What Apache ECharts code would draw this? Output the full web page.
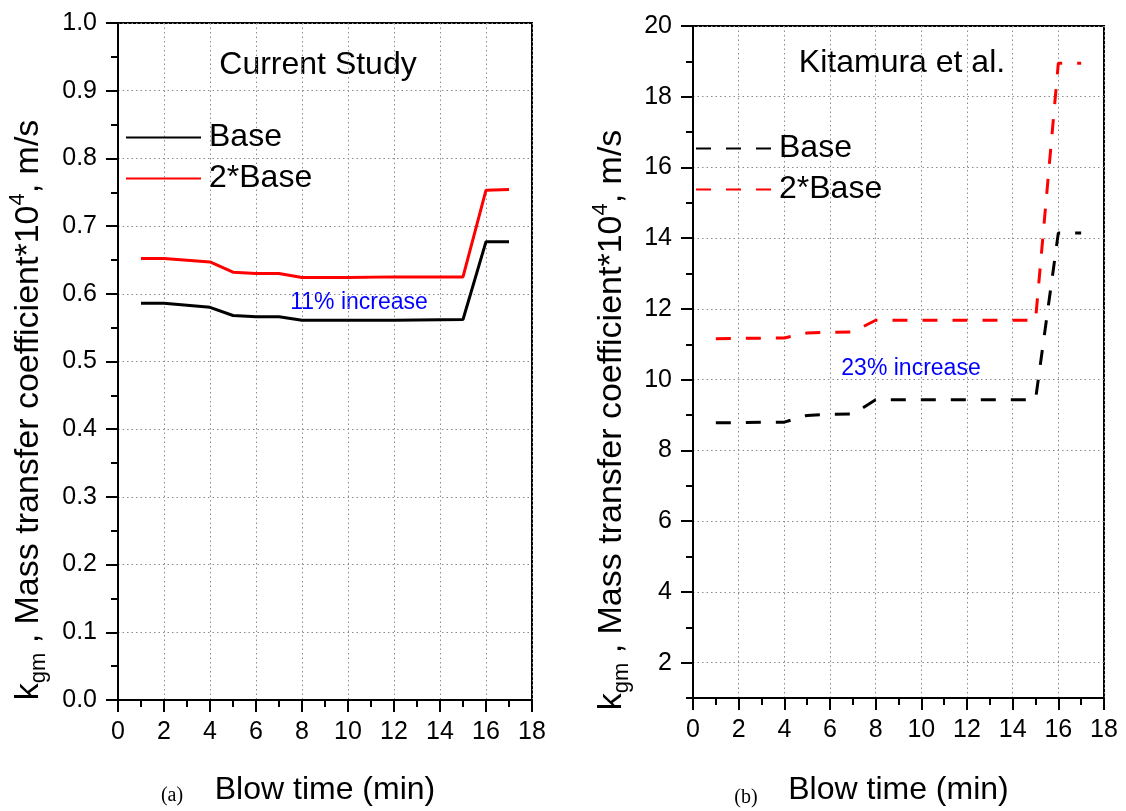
<!DOCTYPE html>
<html>
<head>
<meta charset="utf-8">
<script src="https://cdn.jsdelivr.net/npm/echarts@6/dist/echarts.min.js"></script>
<style>
  html, body { margin: 0; padding: 0; background: #fff; }
  #chart { width: 1126px; height: 811px; }
</style>
</head>
<body>
<div id="chart"></div>
<script>
// Panel (a): current study, kgm (x1e4 m/s) against blow time (min)
const timeA = [1, 2, 4, 5, 6, 7, 8, 10, 12, 15, 16, 17];
const baseA = [0.586, 0.586, 0.580, 0.568, 0.566, 0.566, 0.561, 0.561, 0.561, 0.562, 0.677, 0.677];
const doubleA = [0.652, 0.652, 0.647, 0.632, 0.630, 0.630, 0.624, 0.624, 0.625, 0.625, 0.753, 0.754];

// Panel (b): Kitamura et al. correlation
const timeB = [1, 4, 5, 6, 7, 8, 15, 16, 17];
const baseB = [8.78, 8.80, 8.99, 9.02, 9.03, 9.43, 9.43, 14.15, 14.15];
const doubleB = [11.16, 11.18, 11.32, 11.34, 11.35, 11.68, 11.68, 18.95, 18.95];

// Axis ticks for panel (b)
const yMajorB = [2, 4, 6, 8, 10, 12, 14, 16, 18, 20];
const yMinorB = [1, 3, 5, 7, 9, 11, 13, 15, 17, 19];

const FONT = "'Liberation Sans', Arial, sans-serif";
const SERIF = "'Liberation Serif', 'DejaVu Serif', serif";
const Y_TITLE = 'k{sub|gm} , Mass transfer coefficient*10{sup|4}, m/s';

const zip = (xs, ys) => xs.map((x, i) => [x, ys[i]]);

const gridLine = { show: true, lineStyle: { color: '#8c8c8c', width: 1, type: [1.5, 3] } };
const blackLine = { show: true, onZero: false, lineStyle: { color: '#000', width: 2 } };

function xAxisFor(gridIndex, nameGap) {
  return {
    type: 'value', gridIndex, min: 0, max: 18, interval: 2,
    axisLine: blackLine,
    axisTick: { show: true, length: 12, lineStyle: { color: '#000', width: 2 } },
    minorTick: { show: true, splitNumber: 2, length: 7, lineStyle: { color: '#000', width: 2 } },
    splitLine: gridLine,
    axisLabel: { fontSize: 25, color: '#000', fontFamily: FONT, margin: 20 },
    name: 'Blow time (min)', nameLocation: 'middle', nameGap,
    nameTextStyle: { fontSize: 32, color: '#000', fontFamily: FONT }
  };
}

function legendFor(left, top, names) {
  return {
    left, top, orient: 'vertical', padding: 0, itemGap: 6,
    itemWidth: 75, itemHeight: 14, selectedMode: false,
    itemStyle: { opacity: 0 },
    data: names,
    formatter: n => n.replace(/ \([ab]\)$/, ''),
    textStyle: { fontSize: 32, lineHeight: 35, color: '#000', fontFamily: FONT, padding: [0, 0, 0, 3] }
  };
}

function yTitle(x, y) {
  return {
    type: 'text', x, y, rotation: Math.PI / 2,
    style: {
      text: Y_TITLE,
      fontSize: 34, fontFamily: FONT, fill: '#000', align: 'center', verticalAlign: 'middle',
      rich: {
        sub: { fontSize: 22, fontFamily: FONT, fill: '#000', padding: [20, 0, 0, 0] },
        sup: { fontSize: 22, fontFamily: FONT, fill: '#000', padding: [0, 0, 22, 0] }
      }
    }
  };
}

function label(x, y, text, size, color, family) {
  return {
    type: 'text', x, y,
    style: { text, fontSize: size, fontFamily: family || FONT, fill: color || '#000', align: 'center', verticalAlign: 'middle' }
  };
}

const option = {
  backgroundColor: '#fff',
  animation: false,
  grid: [
    { left: 118, top: 23, width: 414, height: 684, show: true, borderColor: '#000', borderWidth: 2 },
    { left: 693, top: 26, width: 411, height: 682, show: true, borderColor: '#000', borderWidth: 2 }
  ],
  xAxis: [xAxisFor(0, 74), xAxisFor(1, 76)],
  yAxis: [
    {
      type: 'value', gridIndex: 0, min: 0, max: 1, interval: 0.1, position: 'left',
      axisLine: blackLine,
      axisTick: { show: true, length: 12, lineStyle: { color: '#000', width: 2 } },
      minorTick: { show: true, splitNumber: 2, length: 7, lineStyle: { color: '#000', width: 2 } },
      splitLine: gridLine,
      axisLabel: { fontSize: 25, color: '#000', fontFamily: FONT, margin: 21, formatter: v => v.toFixed(1) }
    },
    {
      type: 'value', gridIndex: 1, min: 1, max: 20, interval: 1, position: 'left',
      axisLine: blackLine,
      axisTick: { show: true, length: 12, customValues: yMajorB, lineStyle: { color: '#000', width: 2 } },
      splitLine: gridLine,
      axisLabel: { fontSize: 25, color: '#000', fontFamily: FONT, margin: 21, customValues: yMajorB }
    },
    {
      // odd-value minor ticks for panel (b)
      type: 'value', gridIndex: 1, min: 1, max: 20, interval: 1, position: 'left',
      axisLine: { show: false },
      axisTick: { show: true, length: 7, customValues: yMinorB, lineStyle: { color: '#000', width: 2 } },
      splitLine: { show: false },
      axisLabel: { show: false }
    }
  ],
  legend: [
    legendFor(125, 120, ['Base (a)', '2*Base (a)']),
    legendFor(695, 131, ['Base (b)', '2*Base (b)'])
  ],
  series: [
    {
      name: 'Base (a)', type: 'line', xAxisIndex: 0, yAxisIndex: 0, symbol: 'none',
      data: zip(timeA, baseA), color: '#000',
      lineStyle: { color: '#000', width: 3 }
    },
    {
      name: '2*Base (a)', type: 'line', xAxisIndex: 0, yAxisIndex: 0, symbol: 'none',
      data: zip(timeA, doubleA), color: '#ff0000',
      lineStyle: { color: '#ff0000', width: 3 }
    },
    {
      name: 'Base (b)', type: 'line', xAxisIndex: 1, yAxisIndex: 1, symbol: 'none',
      data: zip(timeB, baseB), color: '#000',
      lineStyle: { color: '#000', width: 3, type: [15, 15] }
    },
    {
      name: '2*Base (b)', type: 'line', xAxisIndex: 1, yAxisIndex: 1, symbol: 'none',
      data: zip(timeB, doubleB), color: '#ff0000',
      lineStyle: { color: '#ff0000', width: 3, type: [15, 15] }
    }
  ],
  graphic: [
    label(318, 65, 'Current Study', 32),
    label(902, 63, 'Kitamura et al.', 32),
    label(359, 303, '11% increase', 23, '#0000ff'),
    label(911, 369, '23% increase', 23, '#0000ff'),
    label(172, 796, '(a)', 20, '#000', SERIF),
    label(746, 798, '(b)', 20, '#000', SERIF),
    yTitle(29, 410),
    yTitle(612, 420)
  ]
};

const chart = echarts.init(document.getElementById('chart'), null, { renderer: 'canvas' });
chart.setOption(option);
</script>
</body>
</html>
